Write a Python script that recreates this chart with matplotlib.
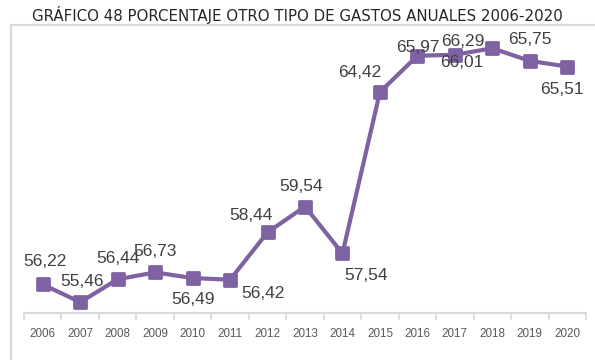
import matplotlib
matplotlib.use("Agg")
import matplotlib.pyplot as plt
from matplotlib.lines import Line2D
from matplotlib.markers import MarkerStyle
from matplotlib.ticker import FixedLocator

# porcentaje de otro tipo de gastos por año
years = ["2006", "2007", "2008", "2009", "2010", "2011", "2012", "2013",
         "2014", "2015", "2016", "2017", "2018", "2019", "2020"]
values = [56.22, 55.46, 56.44, 56.73, 56.49, 56.42, 58.44, 59.54,
          57.54, 64.42, 65.97, 66.01, 66.29, 65.75, 65.51]

# where each value label sits relative to its point (pixels)
label_offsets = [(2, 23), (2, 21), (0, 21), (0, 21), (0, -21), (33, -14),
                 (-17, 17), (-4, 20), (24, -22), (-20, 20), (0, 8),
                 (7, -8), (-30, 7), (0, 21), (-5, -23)]

purple = "#7F62A1"
grid_gray = "#D9D9D9"

fig = plt.figure(figsize=(5.95, 3.6), dpi=100)
ax = fig.add_axes([24 / 595, 1 - 313 / 360, 562 / 595, (313 - 31.6) / 360])

x = list(range(len(years)))
ax.plot(x, values, color=purple, lw=3, marker=MarkerStyle("s", joinstyle="round"),
        ms=9, mew=2, mec=purple, mfc=purple, solid_joinstyle="round",
        solid_capstyle="round", clip_on=False, zorder=3)

for xi, v, (dx, dy) in zip(x, values, label_offsets):
    ax.annotate(f"{v:.2f}".replace(".", ","), (xi, v), xytext=(dx, dy),
                textcoords="offset pixels", ha="center", va="center",
                fontsize=12.5, color="#404040", family="Liberation Sans",
                zorder=4)

ax.set_xlim(-0.5, len(years) - 0.5)
ax.set_ylim(55, 67)
ax.set_yticks([])
ax.set_xticks(x)
ax.set_xticklabels(years, fontsize=8.4, color="#595959", family="Liberation Sans")
ax.xaxis.set_minor_locator(FixedLocator([i - 0.5 for i in range(len(years) + 1)]))
ax.tick_params(axis="x", which="major", length=0, pad=11)
ax.tick_params(axis="x", which="minor", length=5, width=1.2, color=grid_gray)
for side in ["top", "right", "left"]:
    ax.spines[side].set_visible(False)
ax.spines["bottom"].set_color(grid_gray)
ax.spines["bottom"].set_linewidth(1.5)

# chart frame (left and top edges)
fx = 11 / 595
fy = 1 - 25 / 360
fig.add_artist(Line2D([fx, fx], [0, fy], color=grid_gray, lw=1.5))
fig.add_artist(Line2D([fx, 1], [fy, fy], color=grid_gray, lw=1.5))

fig.text(0.5, 1 - 15 / 360, "GRÁFICO 48 PORCENTAJE OTRO TIPO DE GASTOS ANUALES 2006-2020",
         ha="center", va="center", fontsize=10.8, color="#262626")

fig.savefig("out.png", dpi=100)
